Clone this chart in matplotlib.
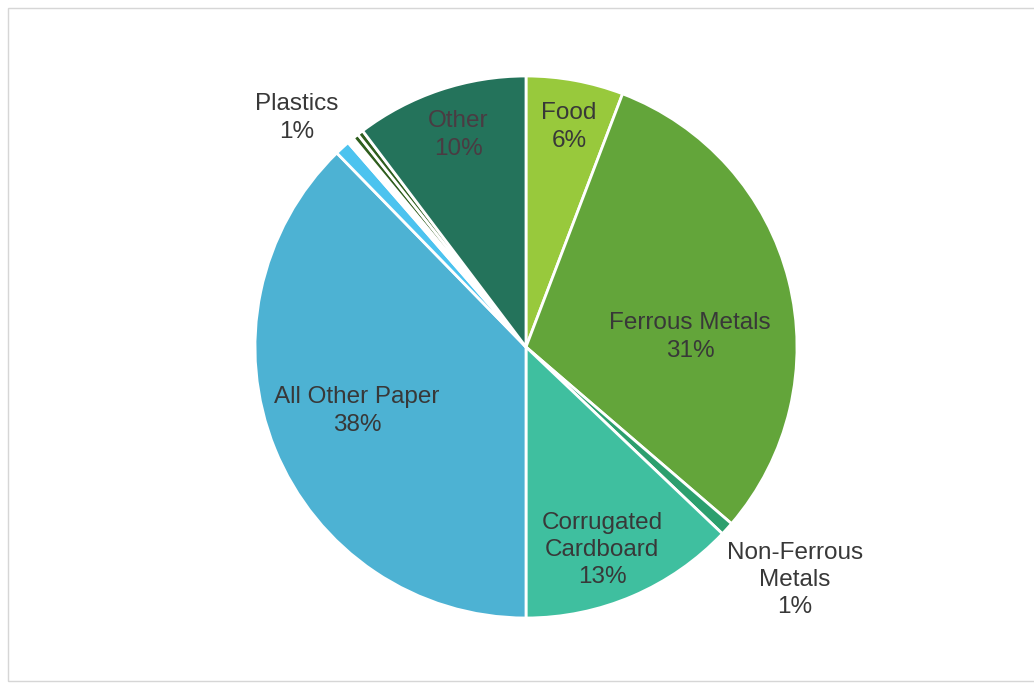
import matplotlib.pyplot as plt
from matplotlib.patches import Rectangle

plt.rcParams['font.family'] = ['Liberation Sans', 'DejaVu Sans']

# material shares (percent), clockwise from 12 o'clock
materials = ['Food', 'Ferrous Metals', 'Non-Ferrous Metals', 'Corrugated Cardboard',
             'All Other Paper', 'Plastics', 'Glass', 'Textiles', 'Wood', 'Other']
shares = [5.8, 30.5, 0.8, 12.9, 37.7, 0.9, 0.4, 0.35, 0.35, 10.3]
colors = ['#98c93c', '#63a53a', '#2c9f6e', '#3fbf9f', '#4db2d3', '#4cc3ef',
          '#ffffff', '#2f5e1e', '#2f5e1e', '#24735b']

# text shown on the chart (None = no label)
labels = ['Food\n6%', 'Ferrous Metals\n31%', 'Non-Ferrous\nMetals\n1%',
          'Corrugated\nCardboard\n13%', 'All Other Paper\n38%', 'Plastics\n1%',
          None, None, None, 'Other\n10%']
# label centres in pixels (x from left, y from top)
label_px = [(569, 127), (690, 337), (795, 580), (602, 550), (357, 411), (297, 118),
            None, None, None, (458, 135)]
label_colors = ['#383838'] * 9 + ['#4a3b42']

W, H = 1034, 689
cx, cy, R = 526, 347, 271

fig = plt.figure(figsize=(W / 100, H / 100), dpi=100)
fig.patch.set_facecolor('white')

# light frame around the chart area
fig.patches.append(Rectangle((8 / W, 1 - 681 / H), 1.2, (681 - 8) / H,
                             transform=fig.transFigure, fill=False,
                             edgecolor='#d6d6d6', linewidth=1.0))

ax = fig.add_axes([(cx - R) / W, (H - cy - R) / H, 2 * R / W, 2 * R / H])
ax.pie(shares, colors=colors, startangle=90, counterclock=False, radius=1,
       wedgeprops=dict(edgecolor='white', linewidth=2.0))
ax.set_xlim(-1, 1)
ax.set_ylim(-1, 1)
ax.set_aspect('equal')
ax.axis('off')

for text, pos, col in zip(labels, label_px, label_colors):
    if text is None:
        continue
    x = (pos[0] - cx) / R
    y = (cy - pos[1]) / R
    ax.text(x, y, text, ha='center', va='center', fontsize=17.5,
            color=col, linespacing=1.32)

plt.savefig('out.png', dpi=100)
